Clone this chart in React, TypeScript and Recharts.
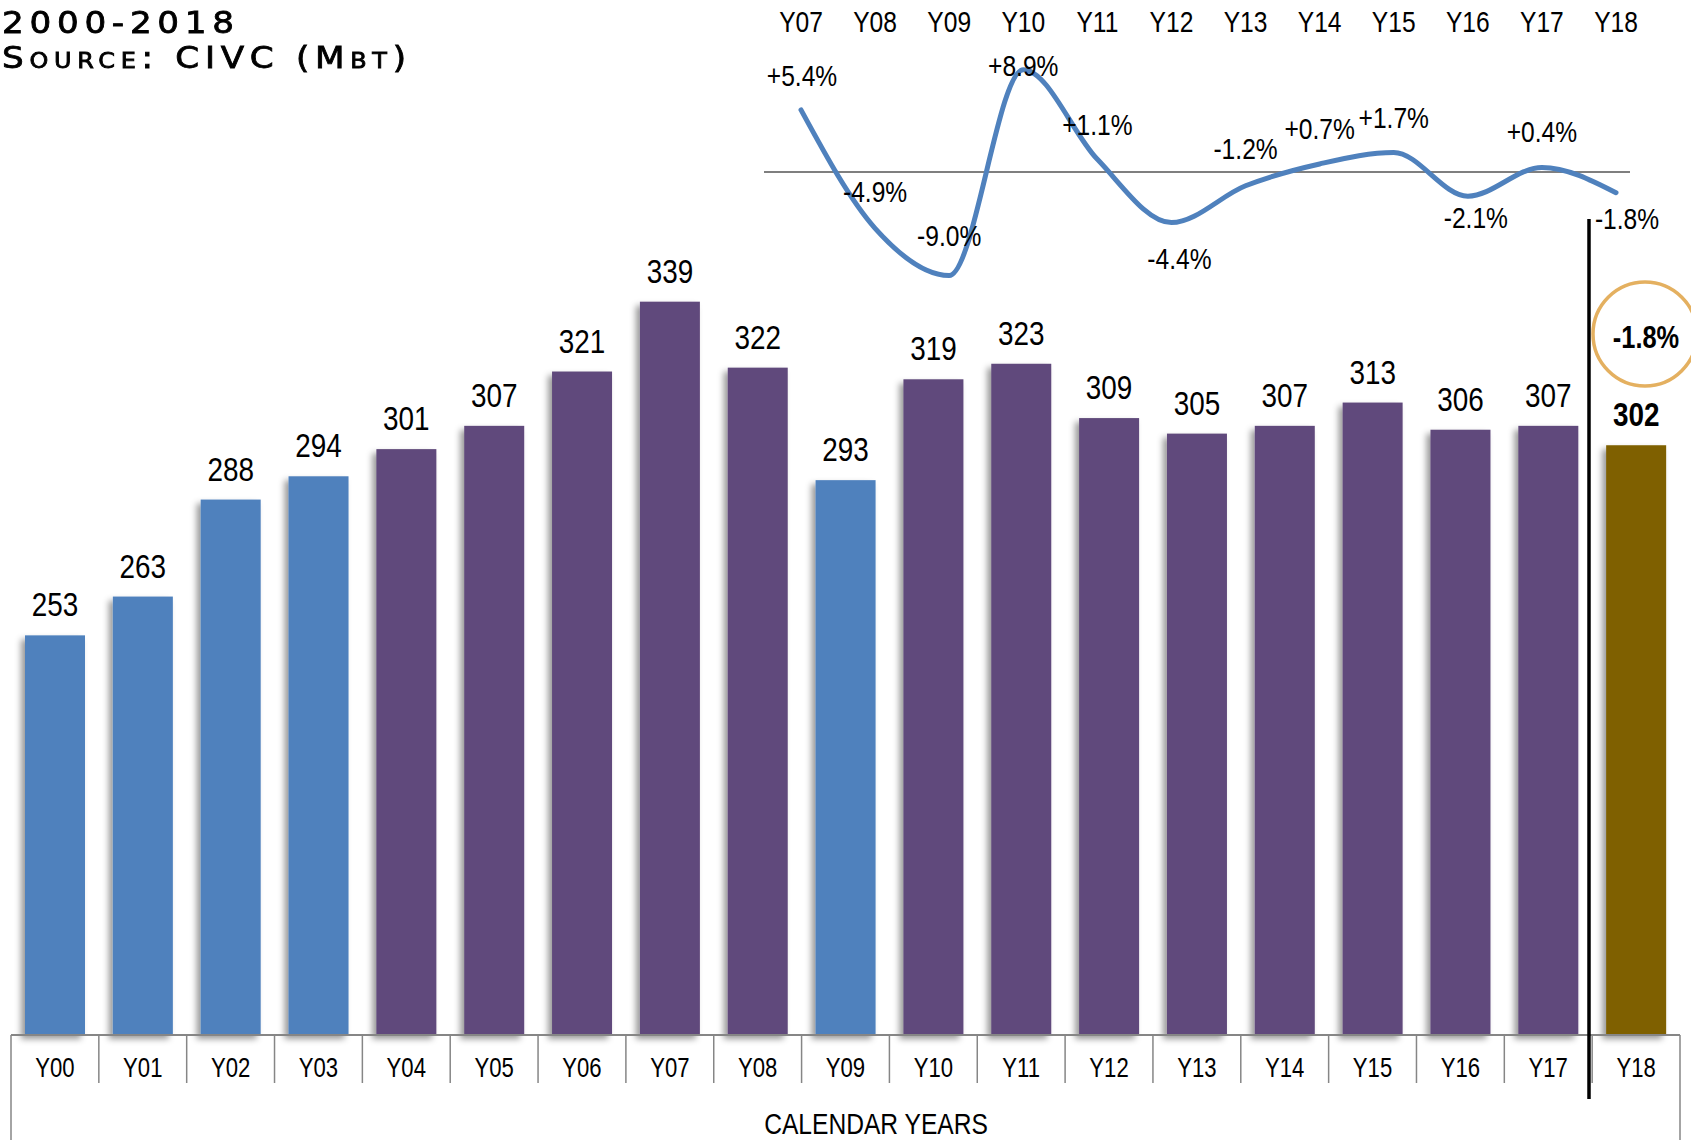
import React from "react";
import {
  BarChart,
  Bar,
  Cell,
  LabelList,
  LineChart,
  Line,
  XAxis,
  YAxis,
  ReferenceLine,
} from "recharts";

// Champagne shipments by calendar year (million bottles)
const years = [
  "Y00", "Y01", "Y02", "Y03", "Y04", "Y05", "Y06", "Y07", "Y08", "Y09",
  "Y10", "Y11", "Y12", "Y13", "Y14", "Y15", "Y16", "Y17", "Y18",
];
const volumes = [
  253, 263, 288, 294, 301, 307, 321, 339, 322, 293,
  319, 323, 309, 305, 307, 313, 306, 307, 302,
];
const blueYears = ["Y00", "Y01", "Y02", "Y03", "Y09"];
const currentYear = "Y18";

// Year-on-year change, %
const trendYears = ["Y07", "Y08", "Y09", "Y10", "Y11", "Y12", "Y13", "Y14", "Y15", "Y16", "Y17", "Y18"];
const yoyChange = [5.4, -4.9, -9.0, 8.9, 1.1, -4.4, -1.2, 0.7, 1.7, -2.1, 0.4, -1.8];

// hand-placed nudges for the change labels [dx, dy] from each point
const changeLabelNudge: [number, number][] = [
  [1, -34], [0, -37], [0, -40], [0, -4], [0, -35], [8, 36],
  [0, -37], [0, -35], [0, -35], [8, 21], [0, -36], [11, 26],
];

const W = 1691;
const H = 1140;
const SANS = '"Liberation Sans", Arial, sans-serif';
const NARROW_X = 0.82; // squeeze Liberation Sans to an Arial Narrow width

const BLUE = "#4F81BD";
const PURPLE = "#604A7B";
const GOLD = "#7F6000";
const RING = "#E4B060";
const AXIS = "#868686";

const barData = years.map((y, i) => ({ year: y, volume: volumes[i] }));
const lineData = trendYears.map((y, i) => ({ year: y, change: yoyChange[i] }));

const fmtPct = (v: number) => (v > 0 ? "+" : "") + v.toFixed(1) + "%";

const barColor = (y: string) =>
  y === currentYear ? GOLD : blueYears.includes(y) ? BLUE : PURPLE;

function NarrowText({
  x,
  y,
  size,
  bold = false,
  baseline,
  children,
}: {
  x: number;
  y: number;
  size: number;
  bold?: boolean;
  baseline?: string;
  children: React.ReactNode;
}) {
  return (
    <text
      transform={`translate(${x},${y}) scale(${NARROW_X},1)`}
      textAnchor="middle"
      dominantBaseline={baseline}
      fontFamily={SANS}
      fontSize={size}
      fontWeight={bold ? 700 : 400}
      fill="#000"
    >
      {children}
    </text>
  );
}

function ShadowBar(props: any) {
  const { x, y, width, height, payload } = props;
  return (
    <rect
      x={x}
      y={y}
      width={width}
      height={height}
      fill={barColor(payload.year)}
      filter="url(#barShadow)"
    />
  );
}

function VolumeLabel(props: any) {
  const { x, y, width, value, index } = props;
  return (
    <NarrowText x={x + width / 2} y={y - 19} size={34} bold={years[index] === currentYear}>
      {value}
    </NarrowText>
  );
}

function YearTick(props: any) {
  const { x, y, payload, index } = props;
  const half = payload?.offset ?? 1669 / years.length / 2;
  const left = x - half;
  const last = index === years.length - 1;
  return (
    <g>
      <line
        x1={left}
        x2={left}
        y1={y}
        y2={index === 0 ? H : y + 48}
        stroke={AXIS}
        strokeWidth={1.5}
      />
      {last && (
        <line x1={x + half} x2={x + half} y1={y} y2={H} stroke={AXIS} strokeWidth={1.5} />
      )}
      <NarrowText x={x} y={y + 42} size={27}>
        {payload.value}
      </NarrowText>
    </g>
  );
}

function TrendTick(props: any) {
  const { x, y, payload } = props;
  return (
    <NarrowText x={x} y={y} size={30}>
      {payload.value}
    </NarrowText>
  );
}

function ChangeLabel(props: any) {
  const { x, y, value, index } = props;
  const [dx, dy] = changeLabelNudge[index] ?? [0, -30];
  return (
    <NarrowText x={x + dx} y={y + dy} size={30} baseline="central">
      {fmtPct(value)}
    </NarrowText>
  );
}

export default function App() {
  const lastChange = yoyChange[yoyChange.length - 1];
  return (
    <div style={{ position: "absolute", left: 0, top: 0, width: W, height: H, background: "#fff", overflow: "hidden" }}>
      {/* volume bars */}
      <div style={{ position: "absolute", left: 0, top: 0 }}>
        <BarChart width={W} height={H} data={barData} margin={{ top: 65, right: 11, bottom: 0, left: 11 }}>
          <defs>
            <filter id="barShadow" x="-30%" y="-10%" width="160%" height="130%">
              <feDropShadow dx={-4} dy={4} stdDeviation={3} floodColor="#000" floodOpacity={0.4} />
            </filter>
          </defs>
          <XAxis
            dataKey="year"
            height={105}
            axisLine={{ stroke: AXIS, strokeWidth: 2 }}
            tickLine={false}
            tickSize={0}
            tickMargin={0}
            interval={0}
            tick={<YearTick />}
          />
          <YAxis hide domain={[150, 400]} />
          <Bar dataKey="volume" barSize={60} isAnimationActive={false} shape={<ShadowBar />}>
            {barData.map((d) => (
              <Cell key={d.year} fill={barColor(d.year)} />
            ))}
            <LabelList dataKey="volume" content={<VolumeLabel />} />
          </Bar>
        </BarChart>
      </div>

      {/* year-on-year change curve */}
      <div style={{ position: "absolute", left: 0, top: 0 }}>
        <LineChart width={W} height={300} data={lineData} margin={{ top: 0, right: 61, bottom: 13, left: 764 }}>
          <XAxis
            dataKey="year"
            orientation="top"
            scale="point"
            padding={{ left: 37, right: 14 }}
            height={57}
            axisLine={false}
            tickLine={false}
            tickSize={0}
            tickMargin={25}
            interval={0}
            tick={<TrendTick />}
          />
          <YAxis hide domain={[-10, 10]} />
          <ReferenceLine y={0} stroke="#7F7F7F" strokeWidth={2} />
          <Line
            dataKey="change"
            type="monotone"
            stroke={BLUE}
            strokeWidth={5}
            strokeLinecap="round"
            dot={false}
            isAnimationActive={false}
          >
            <LabelList dataKey="change" content={<ChangeLabel />} />
          </Line>
        </LineChart>
      </div>

      {/* divider before the current year and its highlighted change */}
      <svg width={W} height={H} style={{ position: "absolute", left: 0, top: 0, pointerEvents: "none" }}>
        <line x1={1589} x2={1589} y1={219} y2={1099} stroke="#000" strokeWidth={3.5} />
        <circle cx={1645} cy={334} r={52} fill="none" stroke={RING} strokeWidth={3.5} />
        <NarrowText x={1646} y={348} size={31} bold>
          {fmtPct(lastChange)}
        </NarrowText>
        <NarrowText x={876} y={1134} size={30}>
          CALENDAR YEARS
        </NarrowText>
      </svg>

      <div
        style={{
          position: "absolute",
          left: 2,
          top: 5,
          fontFamily: '"DejaVu Sans", sans-serif',
          fontSize: 30,
          lineHeight: "35px",
          letterSpacing: 5,
          color: "#000",
          fontVariant: "small-caps",
          whiteSpace: "nowrap",
          WebkitTextStroke: "0.8px #000",
          transform: "scale(1.14,1)",
          transformOrigin: "left top",
        }}
      >
        <div>2000-2018</div>
        <div>Source: CIVC (Mbt)</div>
      </div>
    </div>
  );
}
